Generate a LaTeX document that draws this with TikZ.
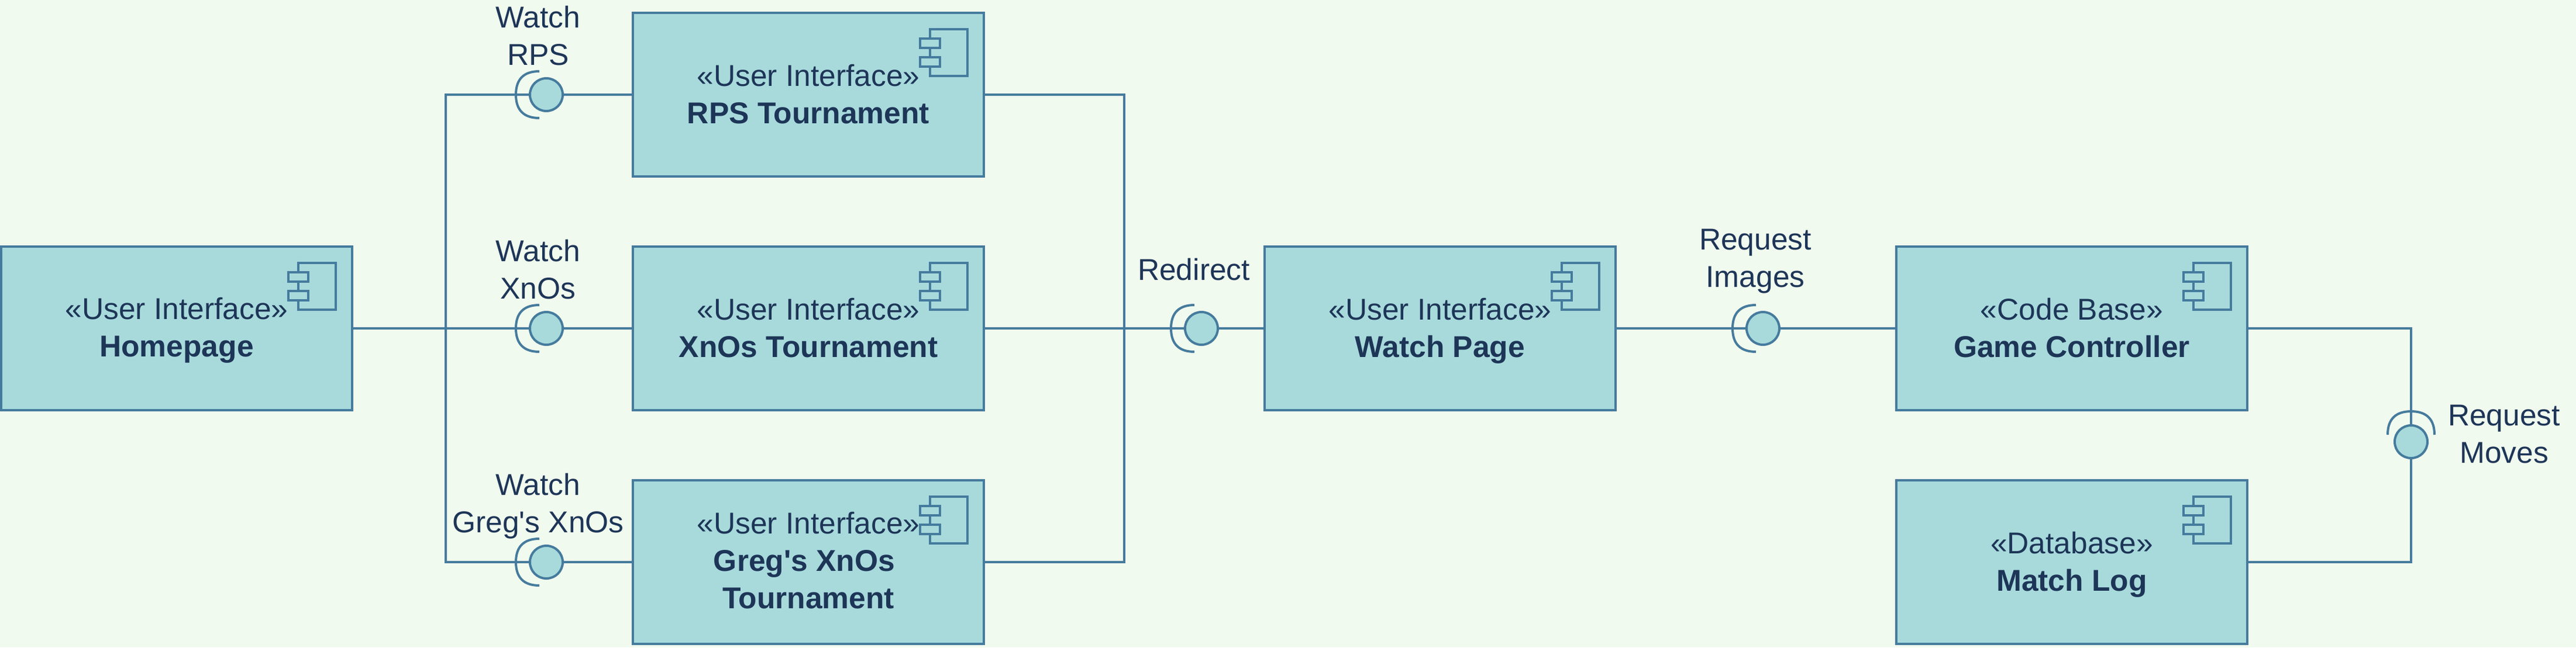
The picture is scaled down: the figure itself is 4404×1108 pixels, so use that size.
\documentclass[tikz,border=0pt]{standalone}
\usepackage{fontspec}
\setmainfont{Liberation Sans}[Ligatures=TeXOff]
\definecolor{bgcol}{HTML}{F1FAEE}
\definecolor{fillcol}{HTML}{A8DADC}
\definecolor{strokecol}{HTML}{457B9D}
\definecolor{textcol}{HTML}{1D3557}
\tikzset{
  x=0.01cm, y=-0.01cm,
  wire/.style={draw=strokecol, line width=0.04cm},
  compbox/.style={wire, fill=fillcol, rectangle, minimum width=6cm, minimum height=2.8cm, inner sep=0pt, outer sep=0pt},
  iconpart/.style={wire, fill=fillcol},
  ballnode/.style={wire, fill=fillcol, circle, minimum size=0.56cm, inner sep=0pt, outer sep=0pt},
  txt/.style={text=textcol, font=\fontsize{14.65}{18.2}\selectfont, align=center, inner sep=0pt, outer sep=0pt},
}
% \compnode{name}{cx}{cy}{text offset cy}{text}
\newcommand{\compnode}[5]{%
  \node[compbox] (#1) at (#2,#3) {};
  \begin{scope}[shift={(#2,#3)}]
    \draw[iconpart] (208,-112) rectangle (272,-32);
    \draw[iconpart] (191,-96) rectangle (225,-80);
    \draw[iconpart] (191,-64) rectangle (225,-48);
  \end{scope}
  \node[txt] (#1text) at (#2,#4) {#5};
}
% \ifacenode{name}{cx}{cy}{rotation}
\newcommand{\ifacenode}[4]{%
  \node[ballnode] (#1) at (#2,#3) {};
  \begin{scope}[shift={(#2,#3)}, rotate=#4]
    \draw[wire] (-12,-40) .. controls (-38,-40) and (-52,-27) .. (-52,0) .. controls (-52,27) and (-38,40) .. (-12,40);
  \end{scope}
}
\begin{document}
\begin{tikzpicture}
\useasboundingbox (0,0) rectangle (4404,1108);
\fill[bgcol] (0,0) rectangle (4404,1108);

\coordinate (busT) at (762,162);
\coordinate (busB) at (762,962);
\coordinate (mergeT) at (1922,162);
\coordinate (mergeB) at (1922,962);

\compnode{home}{302}{562}{566}{\strut«User Interface»\\\strut\textbf{Homepage}}
\compnode{rps}{1382}{162}{167}{\strut«User Interface»\\\strut\textbf{RPS Tournament}}
\compnode{xnos}{1382}{562}{567}{\strut«User Interface»\\\strut\textbf{XnOs Tournament}}
\compnode{greg}{1382}{962}{965}{\strut«User Interface»\\\strut\textbf{Greg's XnOs}\hspace*{0.14cm}\strut\\\strut\textbf{Tournament}}
\compnode{watch}{2462}{562}{567}{\strut«User Interface»\\\strut\textbf{Watch Page}}
\compnode{game}{3542}{562}{567}{\strut«Code Base»\\\strut\textbf{Game Controller}}
\compnode{log}{3542}{962}{967}{\strut«Database»\\\strut\textbf{Match Log}}

\ifacenode{rpsI}{934}{162}{0}
\ifacenode{xnosI}{934}{562}{0}
\ifacenode{gregI}{934}{962}{0}
\ifacenode{redirI}{2054}{562}{0}
\ifacenode{reqI}{3014}{562}{0}
\ifacenode{movesI}{4122}{756}{-90}

\draw[wire] (rpsI.west) -- (busT) -- (busB) -- (gregI.west);
\draw[wire] (home.east) -- (xnosI.west);
\draw[wire] (rpsI.east) -- (rps.west);
\draw[wire] (xnosI.east) -- (xnos.west);
\draw[wire] (gregI.east) -- (greg.west);
\draw[wire] (rps.east) -- (mergeT) -- (mergeB) -- (greg.east);
\draw[wire] (xnos.east) -- (redirI.west);
\draw[wire] (redirI.east) -- (watch.west);
\draw[wire] (watch.east) -- (reqI.west);
\draw[wire] (reqI.east) -- (game.west);
\draw[wire] (game.east) -| (movesI.north);
\draw[wire] (log.east) -| (movesI.south);

\node[txt] (rpsL) at (920,67) {\strut Watch\\\strut RPS};
\node[txt] (xnosL) at (920,467) {\strut Watch\\\strut XnOs};
\node[txt] (gregL) at (920,867) {\strut Watch\\\strut Greg's XnOs};
\node[txt] (redirL) at (2041,467) {\strut Redirect};
\node[txt] (reqL) at (3001,447) {\strut Request\\\strut Images};
\node[txt] (movesL) at (4281,748) {\strut Request\\\strut Moves};
\end{tikzpicture}
\end{document}
